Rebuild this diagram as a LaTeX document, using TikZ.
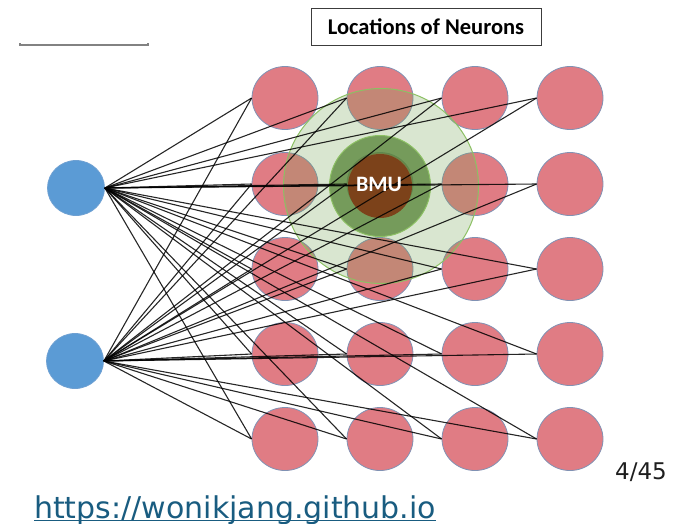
\documentclass[tikz,border=0pt]{standalone}
\usepackage{fontspec}
\setmainfont{Carlito}
\newfontfamily\dejavu{DejaVu Sans}
\usetikzlibrary{shapes.geometric}
\definecolor{redfill}{RGB}{224,124,132}
\definecolor{redline}{RGB}{128,146,180}
\definecolor{bluefill}{RGB}{91,155,213}
\definecolor{blueline}{RGB}{110,160,210}
\definecolor{lightgreen}{RGB}{120,165,85}
\definecolor{greenedge}{RGB}{140,192,100}
\definecolor{midgreen}{RGB}{84,130,53}
\definecolor{bmubrown}{RGB}{124,66,26}
\definecolor{urlblue}{RGB}{25,92,128}
\tikzset{
  neuron/.style={ellipse, draw=redline, fill=redfill, line width=0.8pt,
    minimum width=66pt, minimum height=63pt, inner sep=0pt},
  inputnode/.style={ellipse, draw=blueline, fill=bluefill, line width=0.8pt,
    minimum width=57pt, minimum height=55pt, inner sep=0pt},
  conn/.style={draw=black, opacity=0.85, line width=1.1pt},
  bigzone/.style={circle, draw=greenedge, line width=1pt, fill=lightgreen,
    fill opacity=0.28, minimum size=195pt, inner sep=0pt},
  midzone/.style={circle, draw=greenedge, line width=1pt, fill=midgreen,
    fill opacity=0.75, minimum size=101pt, inner sep=0pt},
  bmustyle/.style={circle, fill=bmubrown, minimum size=64pt, inner sep=0pt},
}
\begin{document}
\begin{tikzpicture}[x=1pt,y=-1pt]
\useasboundingbox (0,0) rectangle (685,523);
% top-left mark
\draw[draw={rgb,255:red,130;green,130;blue,130}, line width=1.3pt] (20,43) -- (20,45) -- (148,45) -- (148,43);
% title
\node[draw={rgb,255:red,60;green,60;blue,60}, line width=1pt, minimum width=230pt, minimum height=37pt, inner sep=0pt,
  font=\fontsize{22.5}{26}\selectfont\bfseries] (title) at (426,27) {Locations of Neurons};
% input nodes
\node[inputnode] (in1) at (76,188) {};
\node[inputnode] (in2) at (75,361) {};
% grid of neurons
\foreach \c/\x in {1/285,2/380,3/475,4/570}{
  \foreach \r/\y in {1/98,2/184,3/269,4/354,5/439}{
    \node[neuron] (n\c\r) at (\x,\y) {};
  }
}
% neighbourhood
\node[bigzone] (zone) at (381,186) {};
\node[midzone] (zonemid) at (380,186) {};
\node[bmustyle] (bmu) at (380,186) {};
% connections
\foreach \i in {1,2}{
  \foreach \c in {1,2,3,4}{
    \foreach \r in {1,2,3,4,5}{
      \draw[conn] (in\i.east) -- (n\c\r.west);
    }
  }
}
\node[text=white, font=\fontsize{22}{24}\selectfont\bfseries, inner sep=0pt] (bmulabel) at (379,184) {BMU};
% page number
\node[anchor=base west, inner sep=0pt, text={rgb,255:red,30;green,30;blue,30},
  font=\dejavu\fontsize{23}{26}\selectfont] (page) at (615,479) {4/45};
% url
\node[anchor=base west, inner sep=0pt, text=urlblue,
  font=\dejavu\fontsize{30}{34}\selectfont] (url) at (34,518) {https://wonikjang.github.io};
\draw[urlblue, line width=1.3pt] ([yshift=-2.5pt]url.base west) -- ([yshift=-2.5pt]url.base east);
\end{tikzpicture}
\end{document}
